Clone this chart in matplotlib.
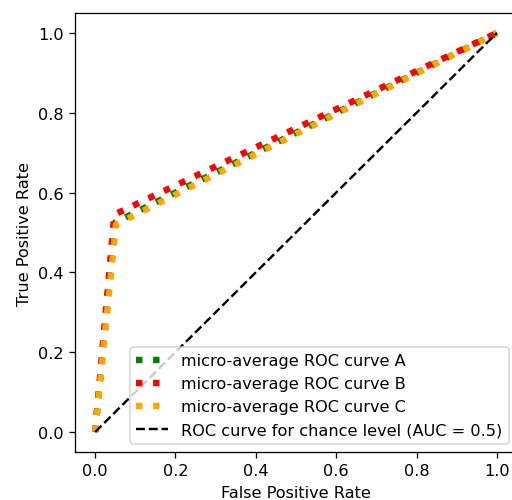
import matplotlib
matplotlib.use("Agg")
import matplotlib.pyplot as plt

fpr_a = [0.0, 0.05, 1.0]
tpr_a = [0.0, 0.525, 1.0]
fpr_b = [0.0, 0.048, 1.0]
tpr_b = [0.0, 0.545, 1.0]
fpr_c = [0.0, 0.052, 1.0]
tpr_c = [0.0, 0.52, 1.0]
chance = [0.0, 1.0]

labels = ["micro-average ROC curve A", "micro-average ROC curve B",
          "micro-average ROC curve C", "ROC curve for chance level (AUC = 0.5)"]

DPI = 116
fig = plt.figure(figsize=(512 / DPI, 501 / DPI), dpi=DPI)
ax = fig.add_axes([75 / 512, (501 - 453) / 501, 442 / 512, 439 / 501])
ax.plot(fpr_a, tpr_a, color="green", linestyle=":", linewidth=4, label=labels[0])
ax.plot(fpr_b, tpr_b, color="red", linestyle=":", linewidth=4, label=labels[1])
ax.plot(fpr_c, tpr_c, color="orange", linestyle=":", linewidth=4, label=labels[2])
ax.plot(chance, chance, "k--", label=labels[3])
ax.set_xlabel("False Positive Rate")
ax.set_ylabel("True Positive Rate")
ax.legend(loc="lower right")
fig.savefig("out.png", dpi=DPI)
